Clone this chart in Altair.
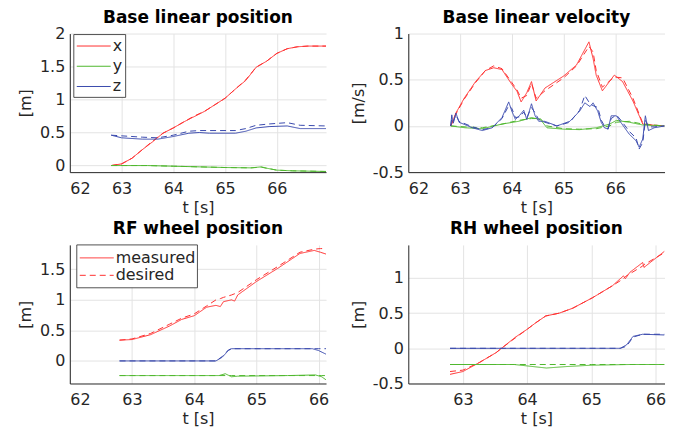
import altair as alt
import pandas as pd

RED = "#ff3030"
GREEN = "#4fb82e"
BLUE = "#3a4aae"
COMPS = ["x", "y", "z"]
KINDS = ["measured", "desired"]

# ---------------- Base linear position ----------------
p1_x_t = [62.8, 63.0, 63.2, 63.4, 63.6, 63.8, 64.0, 64.2, 64.4, 64.6, 64.8, 65.0, 65.2, 65.4, 65.6, 65.8, 66.0, 66.2, 66.4, 66.6, 66.95]
p1_x_meas = [0.0, 0.025, 0.11, 0.24, 0.36, 0.49, 0.57, 0.66, 0.74, 0.82, 0.92, 1.02, 1.16, 1.29, 1.49, 1.58, 1.7, 1.77, 1.8, 1.81, 1.81]
p1_x_des = [0.0, 0.025, 0.11, 0.24, 0.37, 0.49, 0.57, 0.66, 0.75, 0.82, 0.92, 1.02, 1.16, 1.30, 1.49, 1.58, 1.7, 1.77, 1.8, 1.81, 1.81]
p1_y_t = [62.8, 63.5, 64.0, 64.5, 65.0, 65.5, 65.7, 65.8, 66.0, 66.3, 66.95]
p1_y_meas = [0.0, 0.0, -0.01, -0.02, -0.03, -0.035, -0.02, -0.04, -0.07, -0.08, -0.09]
p1_y_des = [0.0, 0.0, -0.01, -0.02, -0.03, -0.035, -0.025, -0.04, -0.07, -0.08, -0.09]
p1_z_t = [62.8, 63.0, 63.4, 63.7, 64.0, 64.3, 64.5, 64.7, 65.2, 65.4, 65.6, 65.85, 66.2, 66.45, 66.95]
p1_z_meas = [0.46, 0.42, 0.40, 0.40, 0.44, 0.49, 0.50, 0.49, 0.49, 0.52, 0.57, 0.59, 0.60, 0.56, 0.56]
p1_z_des = [0.46, 0.45, 0.43, 0.42, 0.46, 0.52, 0.53, 0.53, 0.53, 0.56, 0.61, 0.63, 0.65, 0.61, 0.60]

# ---------------- Base linear velocity ----------------
p2_x_t = [62.82, 62.92, 63.08, 63.3, 63.49, 63.65, 63.81, 64.0, 64.1, 64.18, 64.29, 64.38, 64.47, 64.64, 65.0, 65.25, 65.49, 65.57, 65.63, 65.75, 65.98, 66.14, 66.34, 66.53, 66.7, 66.95]
p2_x_meas = [0.0, 0.14, 0.3, 0.48, 0.6, 0.63, 0.61, 0.45, 0.375, 0.26, 0.36, 0.48, 0.27, 0.41, 0.54, 0.66, 0.91, 0.73, 0.55, 0.38, 0.55, 0.48, 0.27, 0.02, 0.01, 0.0]
p2_x_des = [0.0, 0.13, 0.29, 0.47, 0.6, 0.65, 0.62, 0.47, 0.39, 0.3, 0.33, 0.46, 0.3, 0.38, 0.52, 0.65, 0.86, 0.8, 0.6, 0.42, 0.53, 0.52, 0.3, 0.03, 0.01, 0.0]
p2_y_t = [62.82, 63.1, 63.43, 63.81, 64.13, 64.38, 64.55, 64.68, 65.0, 65.31, 65.63, 65.89, 66.02, 66.27, 66.53, 66.95]
p2_y_meas = [0.0, -0.02, -0.03, 0.02, 0.05, 0.09, 0.07, -0.02, -0.035, -0.04, -0.02, 0.02, 0.06, 0.04, 0.01, 0.0]
p2_y_des = [0.0, -0.01, -0.02, 0.02, 0.06, 0.08, 0.08, 0.0, -0.03, -0.035, -0.03, 0.0, 0.04, 0.05, 0.02, 0.0]
p2_z_t = [62.82, 62.84, 62.87, 62.92, 62.98, 63.24, 63.43, 63.62, 63.81, 63.94, 64.0, 64.07, 64.16, 64.23, 64.29, 64.38, 64.45, 64.52, 64.64, 64.87,
          65.12, 65.31, 65.41, 65.51, 65.57, 65.66, 65.73, 65.79, 65.86, 65.92, 66.02, 66.11, 66.27, 66.4, 66.46, 66.53, 66.58, 66.64, 66.75, 66.95]
p2_z_meas = [0.0, 0.12, 0.03, 0.14, 0.04, -0.02, -0.05, -0.02, 0.09, 0.26, 0.16, 0.07, 0.12, 0.17, 0.07, 0.24, 0.11, 0.05, 0.05, 0.0,
             0.05, 0.16, 0.25, 0.21, 0.25, 0.16, 0.035, -0.02, -0.035, 0.11, 0.11, 0.035, -0.09, -0.16, -0.23, -0.14, 0.11, -0.05, -0.02, 0.0]
p2_z_des = [0.0, 0.08, 0.05, 0.12, 0.05, -0.01, -0.04, -0.02, 0.08, 0.22, 0.19, 0.09, 0.1, 0.15, 0.09, 0.2, 0.14, 0.07, 0.04, 0.0,
            0.04, 0.17, 0.33, 0.24, 0.22, 0.2, 0.06, 0.0, -0.03, 0.08, 0.12, 0.06, -0.06, -0.13, -0.25, -0.18, 0.06, -0.01, -0.01, 0.0]

# ---------------- RF wheel position ----------------
p3_x_t = [62.8, 63.0, 63.3, 63.6, 63.8, 64.0, 64.2, 64.35, 64.42, 64.47, 64.6, 64.65, 64.7, 65.0, 65.35, 65.7, 65.93, 66.03, 66.12]
p3_x_meas = [0.34, 0.35, 0.43, 0.57, 0.68, 0.74, 0.88, 0.91, 0.89, 0.97, 1.0, 0.98, 1.08, 1.3, 1.52, 1.76, 1.81, 1.78, 1.75]
p3_x_des = [0.34, 0.36, 0.45, 0.6, 0.7, 0.77, 0.9, 1.0, 1.02, 1.04, 1.08, 1.1, 1.12, 1.33, 1.55, 1.78, 1.83, 1.84, 1.84]
p3_y_t = [62.8, 64.4, 64.5, 64.6, 64.7, 65.5, 65.95, 66.05, 66.12]
p3_y_meas = [-0.24, -0.24, -0.21, -0.26, -0.25, -0.24, -0.23, -0.26, -0.31]
p3_y_des = [-0.24, -0.24, -0.24, -0.24, -0.24, -0.24, -0.24, -0.24, -0.24]
p3_z_t = [62.8, 64.35, 64.45, 64.55, 64.6, 65.9, 66.0, 66.12]
p3_z_meas = [0.0, 0.0, 0.06, 0.17, 0.2, 0.2, 0.17, 0.11]
p3_z_des = [0.0, 0.0, 0.07, 0.18, 0.2, 0.2, 0.2, 0.2]

# ---------------- RH wheel position ----------------
p4_x_t = [62.8, 63.0, 63.26, 63.52, 63.6, 63.82, 64.0, 64.13, 64.29, 64.5, 64.71, 65.02, 65.33, 65.5, 65.53, 65.6, 65.8, 65.82, 66.14]
p4_x_meas = [-0.37, -0.33, -0.2, -0.06, 0.0, 0.16, 0.27, 0.36, 0.46, 0.5, 0.57, 0.72, 0.89, 1.03, 0.99, 1.08, 1.22, 1.15, 1.38]
p4_x_des = [-0.33, -0.31, -0.2, -0.06, 0.0, 0.15, 0.27, 0.36, 0.46, 0.5, 0.57, 0.72, 0.89, 0.99, 1.02, 1.06, 1.17, 1.19, 1.36]
p4_y_t = [62.8, 63.8, 64.0, 64.3, 64.6, 65.0, 65.6, 66.14]
p4_y_meas = [-0.23, -0.23, -0.25, -0.28, -0.26, -0.24, -0.23, -0.23]
p4_y_des = [-0.23, -0.23, -0.23, -0.23, -0.23, -0.23, -0.23, -0.23]
p4_z_t = [62.8, 65.45, 65.55, 65.65, 65.8, 66.14]
p4_z_meas = [0.0, 0.0, 0.05, 0.17, 0.2, 0.19]
p4_z_des = [0.0, 0.0, 0.03, 0.16, 0.2, 0.2]

W, H = 257, 139


def make_df(series):
    rows = []
    for comp, (ts, meas, des) in zip(COMPS, series):
        for t, v in zip(ts, meas):
            rows.append({"t": t, "v": v, "comp": comp, "kind": "measured"})
        for t, v in zip(ts, des):
            rows.append({"t": t, "v": v, "comp": comp, "kind": "desired"})
    return pd.DataFrame(rows)


def panel(series, title, ytitle, xdom, ydom, xticks, yticks, legend=None, title_offset=-1):
    df = make_df(series)
    lines = alt.Chart(df).mark_line(strokeWidth=1, clip=True).encode(
        x=alt.X("t:Q", scale=alt.Scale(domain=xdom, nice=False, zero=False),
                axis=alt.Axis(values=xticks, title="t [s]", labelExpr="datum.value + ''")),
        y=alt.Y("v:Q", scale=alt.Scale(domain=ydom, nice=False, zero=False),
                axis=alt.Axis(values=yticks, title=ytitle, labelExpr="datum.value + ''")),
        color=alt.Color("comp:N", scale=alt.Scale(domain=COMPS, range=[RED, GREEN, BLUE]), legend=None),
        strokeDash=alt.StrokeDash("kind:N", scale=alt.Scale(domain=KINDS, range=[[1, 0], [6, 4]]), legend=None),
        order="t:Q",
    )
    layers = [lines]
    one = pd.DataFrame({"a": [0]})
    if legend == "comp":
        layers.append(alt.Chart(one).mark_rect(fill="white", stroke="#262626", strokeWidth=0.8).encode(
            x=alt.value(4), x2=alt.value(56), y=alt.value(1), y2=alt.value(64)))
        for i, (name, col) in enumerate(zip(COMPS, [RED, GREEN, BLUE])):
            yy = 12.5 + 20.3 * i
            layers.append(alt.Chart(one).mark_rule(color=col, strokeWidth=1).encode(
                x=alt.value(7), x2=alt.value(41), y=alt.value(yy)))
            layers.append(alt.Chart(one).mark_text(align="left", baseline="middle", font="DejaVu Sans",
                                                   fontSize=16, color="#262626").encode(
                x=alt.value(43), y=alt.value(yy), text=alt.value(name)))
    elif legend == "kind":
        layers.append(alt.Chart(one).mark_rect(fill="white", stroke="#262626", strokeWidth=0.8).encode(
            x=alt.value(7), x2=alt.value(128), y=alt.value(0), y2=alt.value(43)))
        for i, (name, dash) in enumerate(zip(KINDS, [[1, 0], [6, 4]])):
            yy = 13 + 17.5 * i
            layers.append(alt.Chart(one).mark_rule(color=RED, strokeWidth=1, strokeDash=dash).encode(
                x=alt.value(10), x2=alt.value(44), y=alt.value(yy)))
            layers.append(alt.Chart(one).mark_text(align="left", baseline="middle", font="DejaVu Sans",
                                                   fontSize=16, color="#262626").encode(
                x=alt.value(46), y=alt.value(yy), text=alt.value(name)))
    return alt.layer(*layers).properties(
        width=W, height=H,
        title=alt.TitleParams(title, offset=title_offset),
    )


c1 = panel([(p1_x_t, p1_x_meas, p1_x_des), (p1_y_t, p1_y_meas, p1_y_des), (p1_z_t, p1_z_meas, p1_z_des)],
           "Base linear position", "[m]", [62, 66.95], [-0.1, 2], [62, 63, 64, 65, 66], [0, 0.5, 1, 1.5, 2], legend="comp")
c2 = panel([(p2_x_t, p2_x_meas, p2_x_des), (p2_y_t, p2_y_meas, p2_y_des), (p2_z_t, p2_z_meas, p2_z_des)],
           "Base linear velocity", "[m/s]", [62, 66.95], [-0.5, 1], [62, 63, 64, 65, 66], [-0.5, 0, 0.5, 1])
c3 = panel([(p3_x_t, p3_x_meas, p3_x_des), (p3_y_t, p3_y_meas, p3_y_des), (p3_z_t, p3_z_meas, p3_z_des)],
           "RF wheel position", "[m]", [62, 66.12], [-0.37, 1.9], [62, 63, 64, 65, 66], [0, 0.5, 1, 1.5],
           legend="kind", title_offset=6.5)
c4 = panel([(p4_x_t, p4_x_meas, p4_x_des), (p4_y_t, p4_y_meas, p4_y_des), (p4_z_t, p4_z_meas, p4_z_des)],
           "RH wheel position", "[m]", [62.15, 66.14], [-0.5, 1.47], [63, 64, 65, 66], [-0.5, 0, 0.5, 1],
           title_offset=6.5)

row1 = alt.hconcat(c1, c2, spacing=82.5, bounds="flush")
row2 = alt.hconcat(c3, c4, spacing=82.5, bounds="flush")

chart = alt.vconcat(row1, row2, spacing=5).properties(
    padding={"left": 9, "top": 0, "right": 5, "bottom": 0}
).configure_view(stroke=None).configure_axis(
    labelFont="DejaVu Sans", labelFontSize=16, labelColor="#262626",
    titleFont="DejaVu Sans", titleFontSize=16, titleFontWeight="normal", titleColor="#262626",
    domainColor="#262626", domainWidth=1, gridColor="#e3e3e3", gridWidth=1,
    ticks=False, tickSize=0, labelPadding=5,
).configure_axisX(labelPadding=8, titlePadding=3).configure_axisY(titlePadding=6).configure_title(
    font="DejaVu Sans", fontSize=17, fontWeight="bold", color="#000000", anchor="middle"
)

chart.save("out.html", embed_options={"renderer": "svg", "actions": False})
